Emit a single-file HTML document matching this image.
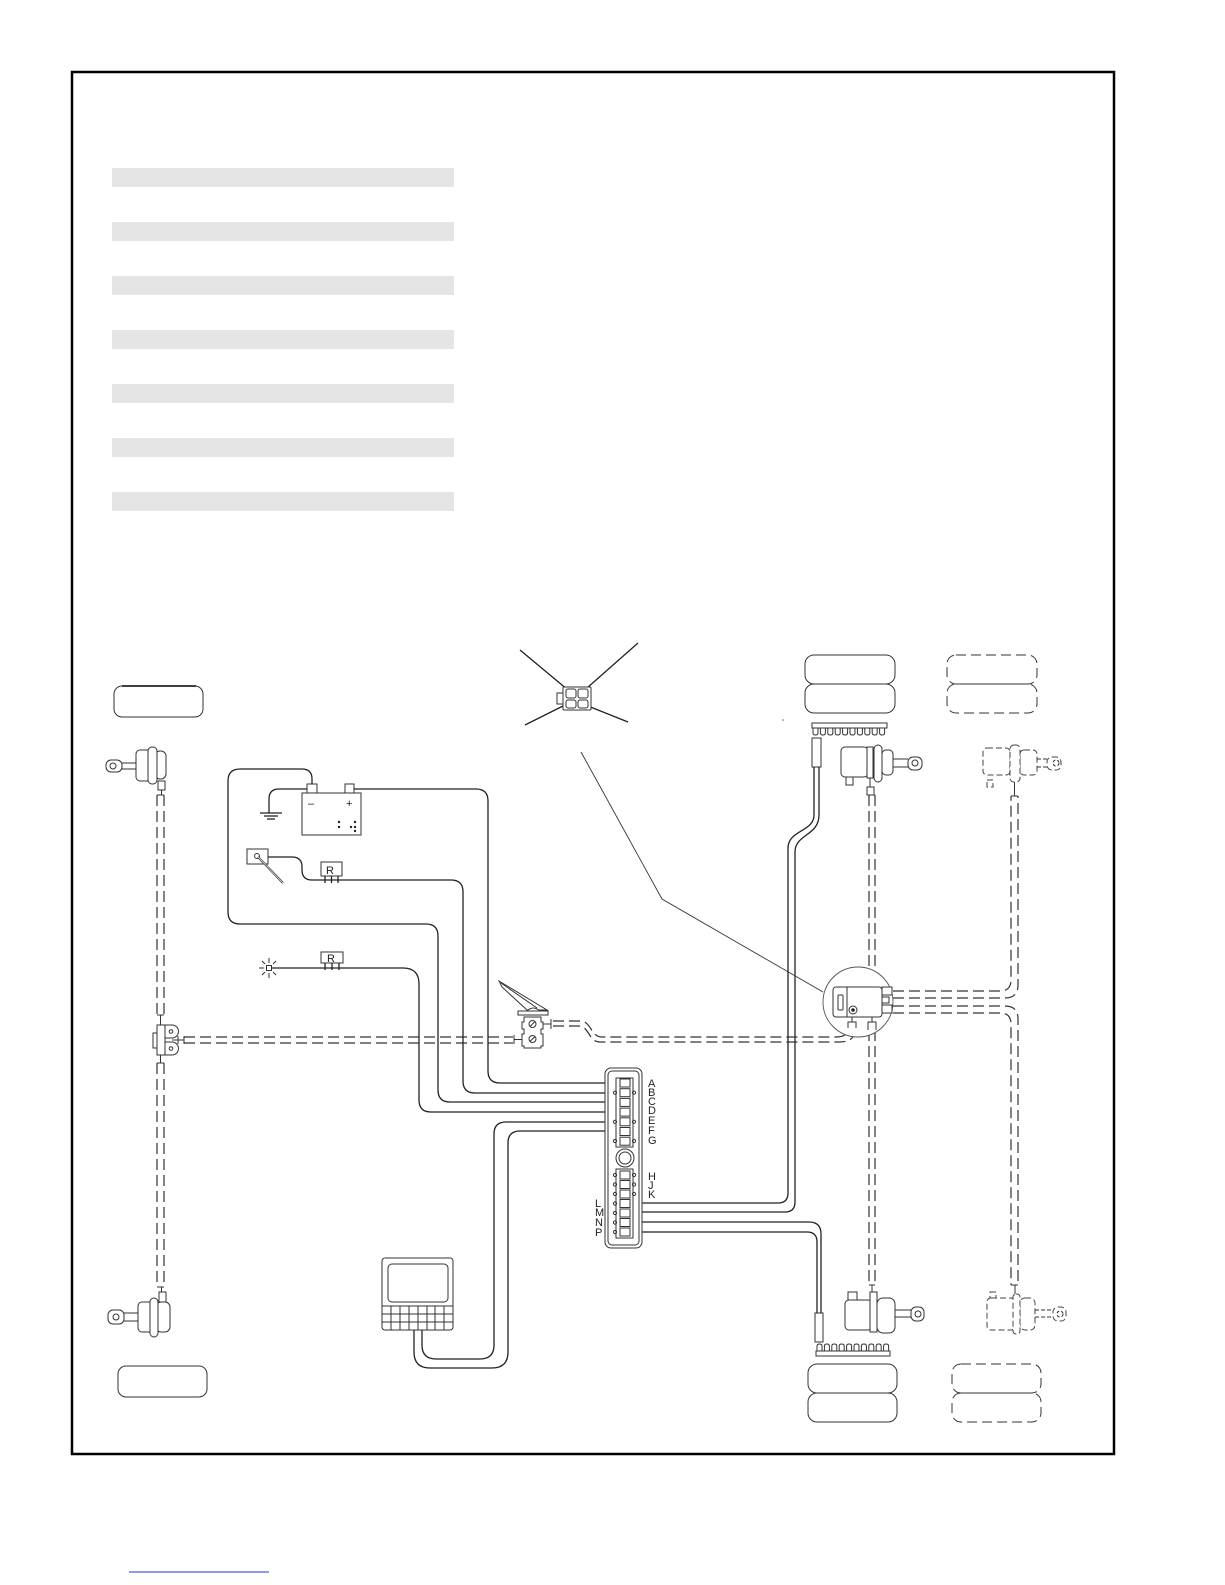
<!DOCTYPE html>
<html><head><meta charset="utf-8"><style>
html,body{margin:0;padding:0;background:#fff}
svg{display:block}
.w{stroke:#222;stroke-width:1.3;fill:none}
.t{stroke:#333;stroke-width:1;fill:none}
.f{stroke:#333;stroke-width:1;fill:#fff}
.d{stroke:#333;stroke-width:1.2;fill:none;stroke-dasharray:11 5}
.dd{stroke:#444;stroke-width:1;fill:#fff;stroke-dasharray:6 3}
.lb{font-family:"Liberation Sans",sans-serif;font-size:11px;fill:#222}
</style></head><body>
<svg width="1225" height="1585" viewBox="0 0 1225 1585" xmlns="http://www.w3.org/2000/svg">
<rect x="0" y="0" width="1225" height="1585" fill="#fff"/>
<!-- frame -->
<rect x="72" y="72" width="1042" height="1382" fill="none" stroke="#000" stroke-width="2.5"/>
<!-- gray bars -->
<g fill="#e5e5e5">
<rect x="112" y="168" width="342" height="19"/>
<rect x="112" y="222" width="342" height="19"/>
<rect x="112" y="276" width="342" height="19"/>
<rect x="112" y="330" width="342" height="19"/>
<rect x="112" y="384" width="342" height="19"/>
<rect x="112" y="438" width="342" height="19"/>
<rect x="112" y="492" width="342" height="19"/>
</g>
<!-- blue link underline -->
<line x1="129" y1="1572" x2="269" y2="1572" stroke="#2233cc" stroke-width="1"/>

<!-- TIRES -->
<rect class="t" x="114" y="686" width="89" height="31" rx="8"/>
<line x1="122" y1="686" x2="196" y2="686" stroke="#000" stroke-width="1.5"/>
<rect class="t" x="118" y="1366" width="89" height="31" rx="8"/>
<rect class="t" x="805" y="655" width="90" height="29" rx="9"/>
<rect class="t" x="805" y="684" width="90" height="29" rx="9"/>
<rect class="t" x="947" y="655" width="90" height="29" rx="9" stroke-dasharray="10 5"/>
<rect class="t" x="947" y="684" width="90" height="29" rx="9" stroke-dasharray="10 5"/>
<rect class="t" x="808" y="1364" width="89" height="29" rx="9"/>
<rect class="t" x="808" y="1393" width="89" height="29" rx="9"/>
<rect class="t" x="952" y="1364" width="89" height="29" rx="9" stroke-dasharray="10 5"/>
<rect class="t" x="952" y="1393" width="89" height="29" rx="9" stroke-dasharray="10 5"/>

<!-- TONE WHEELS -->
<rect class="t" x="812" y="723" width="75" height="5"/>
<g class="t">
<path d="M813,728v5q0,2 2.5,2q2.5,0 2.5,-2v-5"/>
<path d="M820.4,728v5q0,2 2.5,2q2.5,0 2.5,-2v-5"/>
<path d="M827.8,728v5q0,2 2.5,2q2.5,0 2.5,-2v-5"/>
<path d="M835.2,728v5q0,2 2.5,2q2.5,0 2.5,-2v-5"/>
<path d="M842.6,728v5q0,2 2.5,2q2.5,0 2.5,-2v-5"/>
<path d="M850,728v5q0,2 2.5,2q2.5,0 2.5,-2v-5"/>
<path d="M857.4,728v5q0,2 2.5,2q2.5,0 2.5,-2v-5"/>
<path d="M864.8,728v5q0,2 2.5,2q2.5,0 2.5,-2v-5"/>
<path d="M872.2,728v5q0,2 2.5,2q2.5,0 2.5,-2v-5"/>
<path d="M879.6,728v5q0,2 2.5,2q2.5,0 2.5,-2v-5"/>
</g>
<rect class="t" x="816" y="1351" width="74" height="5"/>
<g class="t">
<path d="M817,1351v-5q0,-2 2.5,-2q2.5,0 2.5,2v5"/>
<path d="M824.4,1351v-5q0,-2 2.5,-2q2.5,0 2.5,2v5"/>
<path d="M831.8,1351v-5q0,-2 2.5,-2q2.5,0 2.5,2v5"/>
<path d="M839.2,1351v-5q0,-2 2.5,-2q2.5,0 2.5,2v5"/>
<path d="M846.6,1351v-5q0,-2 2.5,-2q2.5,0 2.5,2v5"/>
<path d="M854,1351v-5q0,-2 2.5,-2q2.5,0 2.5,2v5"/>
<path d="M861.4,1351v-5q0,-2 2.5,-2q2.5,0 2.5,2v5"/>
<path d="M868.8,1351v-5q0,-2 2.5,-2q2.5,0 2.5,2v5"/>
<path d="M876.2,1351v-5q0,-2 2.5,-2q2.5,0 2.5,2v5"/>
<path d="M883.6,1351v-5q0,-2 2.5,-2q2.5,0 2.5,2v5"/>
</g>

<!-- SENSORS -->
<rect class="f" x="812" y="738" width="9" height="29"/>
<rect class="f" x="815" y="1313" width="8" height="29"/>

<!-- WHEEL SENSOR CABLES -->
<path class="w" d="M814,767 V815 C814,832 788,830 788,848 V1193 Q788,1203 778,1203 H630"/>
<path class="w" d="M819,767 V815 C819,836 795,834 795,852 V1202 Q795,1212 785,1212 H630"/>
<path class="w" d="M630,1222 H809 Q821,1222 821,1234 V1313"/>
<path class="w" d="M630,1232 H807 Q817,1232 817,1242 V1313"/>

<!-- DASHED AIR LINES -->
<!-- left axle -->
<line class="d" x1="157" y1="795" x2="157" y2="1015"/>
<line class="d" x1="164" y1="795" x2="164" y2="1015"/>
<line class="t" x1="157" y1="1015" x2="164" y2="1015"/>
<line class="t" x1="160.5" y1="1015" x2="160.5" y2="1025"/>
<line class="d" x1="157" y1="1063" x2="157" y2="1287"/>
<line class="d" x1="164" y1="1063" x2="164" y2="1287"/>
<line class="t" x1="157" y1="1063" x2="164" y2="1063"/>
<line class="t" x1="157" y1="1287" x2="164" y2="1287"/>
<line class="t" x1="160.5" y1="1055" x2="160.5" y2="1063"/>
<line class="t" x1="157" y1="795" x2="164" y2="795"/>
<!-- left horizontal to pedal valve -->
<line class="d" x1="184" y1="1037" x2="513" y2="1037"/>
<line class="d" x1="184" y1="1043" x2="513" y2="1043"/>
<line class="t" x1="184" y1="1036" x2="184" y2="1044"/>
<line class="t" x1="178" y1="1040" x2="184" y2="1040"/>
<line class="t" x1="514" y1="1035" x2="514" y2="1044"/>
<line class="t" x1="514" y1="1039.5" x2="522" y2="1039.5"/>
<!-- pedal to ABS -->
<path class="d" d="M553,1021 H580 C592,1021 590,1037 602,1037 H836 Q848,1037 849,1028"/>
<path class="d" d="M553,1026 H578 C590,1026 588,1042 600,1042 H840 Q855,1042 856,1028"/>
<!-- middle vertical -->
<line class="d" x1="869" y1="795" x2="869" y2="975"/>
<line class="d" x1="875" y1="795" x2="875" y2="975"/>
<line class="t" x1="869" y1="975" x2="875" y2="975"/>
<line class="t" x1="872" y1="975" x2="872" y2="987"/>
<line class="d" x1="869" y1="1030" x2="869" y2="1285"/>
<line class="d" x1="875" y1="1030" x2="875" y2="1285"/>
<line class="t" x1="869" y1="1285" x2="875" y2="1285"/>
<line class="t" x1="869" y1="795" x2="875" y2="795"/>
<!-- ABS right to right axle -->
<path class="d" d="M893,991 H1000 Q1011,991 1011,980 V796"/>
<path class="d" d="M893,998 H1005 Q1018,998 1018,985 V796"/>
<path class="d" d="M893,1013 H1000 Q1011,1013 1011,1024 V1285"/>
<path class="d" d="M893,1006 H1005 Q1018,1006 1018,1019 V1285"/>
<line class="t" x1="1011" y1="1285" x2="1018" y2="1285"/>
<line class="t" x1="1011" y1="796" x2="1018" y2="796"/>

<!-- LEFT CHAMBERS -->
<g>
<rect class="f" x="106" y="760" width="16" height="12" rx="5"/>
<circle class="t" cx="113" cy="766" r="3"/>
<line class="t" x1="122" y1="763" x2="136" y2="763"/>
<line class="t" x1="122" y1="769" x2="136" y2="769"/>
<rect class="f" x="136" y="750" width="16" height="31" rx="4"/>
<rect class="f" x="155" y="751" width="11" height="28" rx="5"/>
<rect class="f" x="148" y="747" width="9" height="37" rx="4"/>
<rect class="f" x="158" y="781" width="7" height="9"/>
<line class="t" x1="161.5" y1="790" x2="161.5" y2="795"/>
</g>
<g>
<rect class="f" x="108" y="1310" width="16" height="14" rx="5"/>
<circle class="t" cx="116" cy="1317" r="3"/>
<line class="t" x1="124" y1="1313" x2="139" y2="1313"/>
<line class="t" x1="124" y1="1321" x2="139" y2="1321"/>
<rect class="f" x="138" y="1302" width="15" height="30" rx="4"/>
<rect class="f" x="156" y="1302" width="14" height="30" rx="5"/>
<rect class="f" x="150" y="1298" width="8" height="39" rx="4"/>
<rect class="f" x="159" y="1292" width="7" height="10"/>
<line class="t" x1="161.5" y1="1287" x2="161.5" y2="1292"/>
</g>
<!-- LEFT RELAY VALVE -->
<g>
<rect class="f" x="153" y="1033" width="4" height="15"/>
<rect class="f" x="157" y="1025" width="8" height="30"/>
<path class="f" d="M165,1025 H172 A6.5,6.5 0 0 1 172,1038 H165 Z"/>
<path class="f" d="M165,1042 H172 A6.5,6.5 0 0 1 172,1055 H165 Z"/>
<circle class="t" cx="171" cy="1031.5" r="1.8"/>
<circle class="t" cx="171" cy="1048.5" r="1.8"/>
<line class="t" x1="172" y1="1040" x2="178" y2="1040"/>
<line class="t" x1="178" y1="1036" x2="178" y2="1044"/>
</g>

<!-- MIDDLE/RIGHT CHAMBERS -->
<g>
<rect class="f" x="846" y="777" width="7" height="8"/>
<rect class="f" x="841" y="747" width="27" height="30" rx="4"/>
<rect class="f" x="882" y="750" width="11" height="25" rx="4"/>
<rect class="f" x="874" y="745" width="8" height="37" rx="4"/>
<rect class="f" x="867" y="747" width="6" height="31"/>
<line class="t" x1="893" y1="759" x2="908" y2="759"/>
<line class="t" x1="893" y1="767" x2="908" y2="767"/>
<rect class="f" x="908" y="757" width="14" height="13" rx="5"/>
<circle class="t" cx="915" cy="763" r="3"/>
<line class="t" x1="870" y1="778" x2="870" y2="787"/>
<rect class="f" x="867" y="787" width="7" height="8"/>
</g>
<g>
<rect class="dd" x="987" y="780" width="6" height="7"/>
<rect class="dd" x="983" y="748" width="27" height="27" rx="4"/>
<rect class="dd" x="1020" y="750" width="17" height="25" rx="4"/>
<rect class="dd" x="1010" y="745" width="10" height="37" rx="4"/>
<line class="t" x1="1037" y1="759" x2="1047" y2="759" stroke-dasharray="4 2"/>
<line class="t" x1="1037" y1="767" x2="1047" y2="767" stroke-dasharray="4 2"/>
<rect class="dd" x="1047" y="757" width="14" height="13" rx="5"/>
<circle class="t" cx="1056" cy="763" r="3" stroke-dasharray="3 2"/>
<line class="t" x1="1014.5" y1="782" x2="1014.5" y2="796"/>
</g>
<g>
<rect class="f" x="848" y="1292" width="9" height="8"/>
<rect class="f" x="845" y="1300" width="27" height="30" rx="4"/>
<rect class="f" x="877" y="1298" width="18" height="35" rx="6"/>
<rect class="f" x="870" y="1292" width="7" height="40"/>
<line class="t" x1="895" y1="1310" x2="911" y2="1310"/>
<line class="t" x1="895" y1="1317" x2="911" y2="1317"/>
<rect class="f" x="911" y="1307" width="13" height="14" rx="5"/>
<circle class="t" cx="918" cy="1314" r="3"/>
<line class="t" x1="872" y1="1285" x2="872" y2="1292"/>
</g>
<g>
<rect class="dd" x="990" y="1292" width="6" height="8"/>
<rect class="dd" x="987" y="1298" width="28" height="32" rx="4"/>
<rect class="dd" x="1020" y="1298" width="15" height="32" rx="5"/>
<rect class="dd" x="1013" y="1294" width="7" height="40" rx="3"/>
<line class="t" x1="1035" y1="1310" x2="1053" y2="1310" stroke-dasharray="4 2"/>
<line class="t" x1="1035" y1="1317" x2="1053" y2="1317" stroke-dasharray="4 2"/>
<rect class="dd" x="1053" y="1307" width="13" height="14" rx="5"/>
<circle class="t" cx="1060" cy="1314" r="3" stroke-dasharray="3 2"/>
<line class="t" x1="1015" y1="1285" x2="1015" y2="1294"/>
</g>

<!-- ABS MODULATOR -->
<g>
<circle cx="858" cy="1002" r="35" fill="#fff" stroke="#555" stroke-width="0.9"/>
<rect class="f" x="833" y="987" width="49" height="30" rx="3"/>
<line class="t" x1="847" y1="987" x2="847" y2="1017"/>
<rect class="t" x="838" y="995" width="5" height="15" rx="1"/>
<circle class="t" cx="853" cy="1010" r="4"/>
<circle cx="853" cy="1010" r="1.8" fill="#222"/>
<rect class="f" x="882" y="987" width="10" height="8"/>
<rect class="f" x="882" y="997" width="7" height="6"/>
<rect class="f" x="882" y="1005" width="10" height="8"/>
<line class="t" x1="852" y1="1017" x2="852" y2="1022"/>
<path class="t" d="M848,1028 V1022 H856 V1028"/>
<line class="t" x1="872" y1="1017" x2="872" y2="1022"/>
<path class="t" d="M868,1030 V1022 H876 V1030"/>
</g>
<!-- leader line -->
<polyline points="581,752 662,899 823,992" fill="none" stroke="#333" stroke-width="0.9"/>
<circle cx="783" cy="720" r="0.8" fill="#666"/>

<!-- PIGTAIL CONNECTOR -->
<g>
<line class="w" x1="520" y1="650" x2="568" y2="690"/>
<line class="w" x1="638" y1="643" x2="587" y2="688"/>
<line class="w" x1="525" y1="725" x2="565" y2="705"/>
<line class="w" x1="628" y1="722" x2="588" y2="706"/>
<rect class="f" x="557" y="693" width="6" height="11"/>
<rect class="f" x="563" y="687" width="28" height="23" rx="1"/>
<rect class="t" x="566" y="689" width="10" height="9" rx="2"/>
<rect class="t" x="578" y="689" width="10" height="9" rx="2"/>
<rect class="t" x="566" y="700" width="10" height="8" rx="2"/>
<rect class="t" x="578" y="700" width="10" height="8" rx="2"/>
</g>

<!-- BATTERY -->
<g>
<rect class="f" x="307" y="784" width="10" height="9"/>
<rect class="f" x="345" y="784" width="9" height="9"/>
<rect class="f" x="302" y="793" width="59" height="42"/>
<text class="lb" x="308" y="807">–</text>
<text class="lb" x="346" y="807">+</text>
<g fill="#222">
<circle cx="339" cy="822" r="1.2"/><circle cx="339" cy="827" r="1.2"/>
<circle cx="351" cy="827" r="1.2"/>
<circle cx="355" cy="822" r="1.2"/><circle cx="355" cy="827" r="1.2"/><circle cx="355" cy="831" r="1.2"/>
</g>
</g>
<!-- ground -->
<path class="w" d="M307,789 H279 Q269,789 269,799 V813"/>
<line class="w" x1="260" y1="813" x2="282" y2="813"/>
<line class="w" x1="264" y1="816" x2="278" y2="816"/>
<line class="w" x1="267" y1="819" x2="275" y2="819"/>

<!-- switch sensor -->
<rect class="f" x="247" y="849" width="21" height="15"/>
<circle class="t" cx="257" cy="856" r="2.5"/>
<line x1="258" y1="857" x2="283" y2="883" stroke="#333" stroke-width="2"/>
<line x1="258" y1="857" x2="283" y2="883" stroke="#fff" stroke-width="0.6"/>

<!-- R1 -->
<rect class="f" x="321" y="862" width="21" height="14"/>
<text class="lb" x="326" y="874" font-size="12">R</text>
<line class="w" x1="325" y1="876" x2="325" y2="883"/>
<line class="w" x1="331.5" y1="876" x2="331.5" y2="883"/>
<line class="w" x1="338" y1="876" x2="338" y2="883"/>
<!-- R2 -->
<rect class="f" x="321" y="952" width="22" height="11"/>
<text class="lb" x="327" y="962" font-size="12">R</text>
<line class="w" x1="325" y1="963" x2="325" y2="970"/>
<line class="w" x1="332" y1="963" x2="332" y2="970"/>
<line class="w" x1="339" y1="963" x2="339" y2="970"/>
<!-- lamp -->
<g stroke="#333" stroke-width="1">
<rect x="266.5" y="965.5" width="5" height="5" fill="#fff"/>
<line x1="269" y1="958" x2="269" y2="963"/>
<line x1="269" y1="973" x2="269" y2="978"/>
<line x1="259" y1="968" x2="264" y2="968"/>
<line x1="262" y1="961" x2="265" y2="964"/>
<line x1="276" y1="961" x2="273" y2="964"/>
<line x1="262" y1="975" x2="265" y2="972"/>
<line x1="276" y1="975" x2="273" y2="972"/>
</g>

<!-- WIRES to connector -->
<path class="w" d="M354,789 H476 Q488,789 488,801 V1071 Q488,1083 500,1083 H620"/>
<path class="w" d="M268,857 H292 Q302,857 302,867 V870 Q302,880 312,880 H451 Q463,880 463,892 V1081 Q463,1093 475,1093 H620"/>
<path class="w" d="M312,784 V779 Q312,769 302,769 H240 Q228,769 228,781 V912 Q228,924 240,924 H426 Q438,924 438,936 V1090 Q438,1102 450,1102 H620"/>
<path class="w" d="M272,968 H403 Q419,968 419,984 V1100 Q419,1112 431,1112 H620"/>
<path class="w" d="M422,1330 V1345 Q422,1359 436,1359 H480 Q494,1359 494,1345 V1134 Q494,1122 506,1122 H620"/>
<path class="w" d="M414,1330 V1352 Q414,1368 430,1368 H492 Q508,1368 508,1352 V1143 Q508,1131 520,1131 H620"/>

<!-- PEDAL VALVE -->
<g>
<polygon points="499,981 547,1010 527,1010 502,987" fill="#fff" stroke="#333" stroke-width="1"/>
<line class="t" x1="501" y1="983" x2="537" y2="1008"/>
<path class="f" d="M527,1011 Q533,1005 540,1011 Z"/>
<rect class="f" x="518" y="1011" width="30" height="4"/>
<path class="f" d="M524,1017 H541 V1022 H543 V1029 H541 V1034 H543 V1046 H541 V1048 H524 V1046 H522 V1034 H524 V1029 H522 V1022 H524 Z"/>
<circle class="t" cx="532.5" cy="1024" r="3.5"/>
<line class="t" x1="530" y1="1026.5" x2="535" y2="1021.5"/>
<circle class="t" cx="532.5" cy="1039" r="3.5"/>
<line class="t" x1="530" y1="1041.5" x2="535" y2="1036.5"/>
<line class="t" x1="543" y1="1024" x2="551" y2="1024"/>
<line class="t" x1="551" y1="1019" x2="551" y2="1029"/>
</g>

<!-- DISPLAY -->
<g>
<rect class="f" x="382" y="1258" width="71" height="72" rx="3"/>
<rect class="t" x="388" y="1264" width="60" height="38" rx="4"/>
<g class="t">
<line x1="382" y1="1306" x2="453" y2="1306"/>
<line x1="382" y1="1314" x2="453" y2="1314"/>
<line x1="382" y1="1322" x2="453" y2="1322"/>
<line x1="391" y1="1306" x2="391" y2="1330"/>
<line x1="400" y1="1306" x2="400" y2="1330"/>
<line x1="409" y1="1306" x2="409" y2="1330"/>
<line x1="418" y1="1306" x2="418" y2="1330"/>
<line x1="427" y1="1306" x2="427" y2="1330"/>
<line x1="435" y1="1306" x2="435" y2="1330"/>
<line x1="444" y1="1306" x2="444" y2="1330"/>
</g>
</g>

<!-- MAIN CONNECTOR -->
<g>
<rect class="f" x="605" y="1068" width="37" height="180" rx="6"/>
<rect class="t" x="608" y="1071" width="31" height="174" rx="4"/>
<rect class="t" x="616" y="1078" width="17" height="69"/>
<g class="f">
<rect x="620" y="1079" width="10" height="8"/>
<rect x="620" y="1088.7" width="10" height="8"/>
<rect x="620" y="1098.4" width="10" height="8"/>
<rect x="620" y="1108.1" width="10" height="8"/>
<rect x="620" y="1117.8" width="10" height="8"/>
<rect x="620" y="1127.5" width="10" height="8"/>
<rect x="620" y="1137.2" width="10" height="8"/>
</g>
<circle class="t" cx="625" cy="1158" r="9"/>
<circle class="t" cx="625" cy="1158" r="6"/>
<rect class="t" x="616" y="1169" width="17" height="69"/>
<g class="f">
<rect x="620" y="1171" width="10" height="8"/>
<rect x="620" y="1180.5" width="10" height="8"/>
<rect x="620" y="1190" width="10" height="8"/>
<rect x="620" y="1199.5" width="10" height="8"/>
<rect x="620" y="1209" width="10" height="8"/>
<rect x="620" y="1218.5" width="10" height="8"/>
<rect x="620" y="1228" width="10" height="8"/>
</g>
<g class="t">
<circle cx="615" cy="1092.7" r="1.6"/><circle cx="634" cy="1092.7" r="1.6"/>
<circle cx="615" cy="1121.8" r="1.6"/><circle cx="634" cy="1121.8" r="1.6"/>
<circle cx="615" cy="1141" r="1.6"/><circle cx="634" cy="1141" r="1.6"/>
<circle cx="615" cy="1175" r="1.6"/><circle cx="634" cy="1175" r="1.6"/>
<circle cx="615" cy="1184.5" r="1.6"/><circle cx="634" cy="1184.5" r="1.6"/>
<circle cx="615" cy="1194" r="1.6"/><circle cx="634" cy="1194" r="1.6"/>
<circle cx="615" cy="1203.5" r="1.6"/>
<circle cx="615" cy="1213" r="1.6"/>
<circle cx="615" cy="1222.5" r="1.6"/>
<circle cx="615" cy="1232" r="1.6"/>
</g>
<g class="lb">
<text x="648" y="1087">A</text>
<text x="648" y="1096">B</text>
<text x="648" y="1105">C</text>
<text x="648" y="1114">D</text>
<text x="648" y="1124">E</text>
<text x="648" y="1134">F</text>
<text x="648" y="1144">G</text>
<text x="648" y="1180">H</text>
<text x="648" y="1189">J</text>
<text x="648" y="1198">K</text>
<text x="595" y="1207">L</text>
<text x="595" y="1216">M</text>
<text x="595" y="1226">N</text>
<text x="595" y="1236">P</text>
</g>
</g>
</svg>
</body></html>
